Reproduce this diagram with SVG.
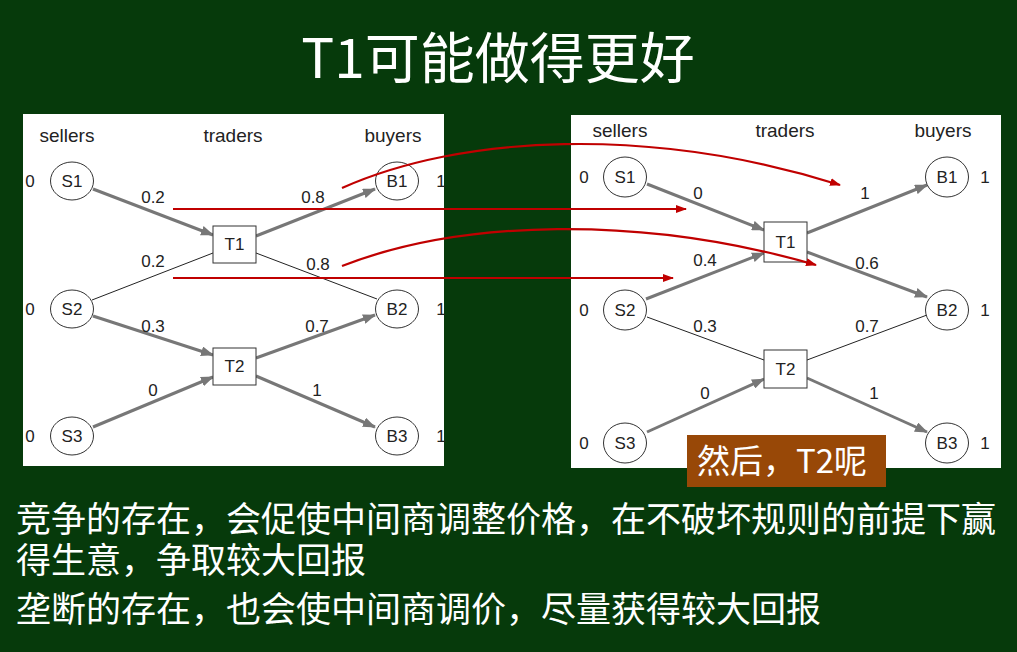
<svg xmlns="http://www.w3.org/2000/svg" width="1017" height="652" viewBox="0 0 1017 652">
  <defs>
    <marker id="grayHead" viewBox="0 0 13 10" refX="12" refY="5" markerWidth="13" markerHeight="10" markerUnits="userSpaceOnUse" orient="auto">
      <path d="M0,0 L13,5 L0,10 z" fill="#777"/>
    </marker>
    <marker id="redHead" viewBox="0 0 11 8" refX="10" refY="4" markerWidth="11" markerHeight="8" markerUnits="userSpaceOnUse" orient="auto">
      <path d="M0,0 L11,4 L0,8 z" fill="#c00000"/>
    </marker>
  </defs>
  <style>
    .panel { fill: #ffffff; }
    .hdr { font-family: "Liberation Sans", Arial, sans-serif; font-size: 19px; fill: #222; text-anchor: middle; }
    .lbl { font-family: "Liberation Sans", Arial, sans-serif; font-size: 17px; fill: #222; text-anchor: middle; }
    .nodeTxt { font-family: "Liberation Sans", Arial, sans-serif; font-size: 17px; fill: #222; text-anchor: middle; }
    .node ellipse, .node rect { fill: #fff; stroke: #333; stroke-width: 1; }
    .flow { stroke: #777; stroke-width: 3; fill: none; marker-end: url(#grayHead); }
    .thin { stroke: #222; stroke-width: 1; fill: none; }
    .red { stroke: #c00000; stroke-width: 2.2; fill: none; marker-end: url(#redHead); }
    .title { font-family: "Noto Sans CJK SC", "Noto Sans", sans-serif; font-size: 55px; fill: #fff; text-anchor: middle; }
    .body { font-family: "Noto Sans CJK SC", sans-serif; font-size: 35px; fill: #fff; }
    .note { font-family: "Noto Sans CJK SC", sans-serif; font-size: 33px; fill: #fff; }
  </style>

  <!-- background -->
  <rect width="1017" height="652" fill="#063a0b"/>

  <text class="title" x="498" y="78">T1可能做得更好</text>

  <!-- left network -->
  <g id="left-panel">
    <rect class="panel" x="23" y="114" width="421" height="352"/>
    <text class="hdr" x="67" y="142">sellers</text>
    <text class="hdr" x="233" y="142">traders</text>
    <text class="hdr" x="393" y="142">buyers</text>
    <text class="lbl" x="30" y="187">0</text>
    <text class="lbl" x="30" y="315">0</text>
    <text class="lbl" x="30" y="442">0</text>
    <text class="lbl" x="441" y="187">1</text>
    <text class="lbl" x="441" y="315">1</text>
    <text class="lbl" x="441" y="442">1</text>
  </g>

  <g id="left-connectors">
    <line class="flow" x1="93" y1="189" x2="213" y2="235"/>
    <line class="flow" x1="256" y1="236" x2="375" y2="189"/>
    <line class="thin" x1="92" y1="300" x2="213" y2="253"/>
    <line class="thin" x1="256" y1="253" x2="377" y2="299"/>
    <line class="flow" x1="93" y1="316" x2="213" y2="355"/>
    <line class="flow" x1="256" y1="358" x2="375" y2="315"/>
    <line class="flow" x1="93" y1="427" x2="213" y2="377"/>
    <line class="flow" x1="256" y1="376" x2="375" y2="427"/>
    <text class="lbl" x="153" y="203">0.2</text>
    <text class="lbl" x="313" y="203">0.8</text>
    <text class="lbl" x="153" y="267">0.2</text>
    <text class="lbl" x="318" y="270">0.8</text>
    <text class="lbl" x="153" y="332">0.3</text>
    <text class="lbl" x="317" y="332">0.7</text>
    <text class="lbl" x="153" y="396">0</text>
    <text class="lbl" x="317" y="396">1</text>
  </g>

  <g id="L-S1" class="node"><ellipse cx="72" cy="181" rx="21.5" ry="19"/><text class="nodeTxt" x="72" y="187">S1</text></g>
  <g id="L-S2" class="node"><ellipse cx="72" cy="309" rx="21.5" ry="19"/><text class="nodeTxt" x="72" y="315">S2</text></g>
  <g id="L-S3" class="node"><ellipse cx="72" cy="436" rx="21.5" ry="19"/><text class="nodeTxt" x="72" y="442">S3</text></g>
  <g id="L-T1" class="node"><rect x="213" y="226" width="43" height="37"/><text class="nodeTxt" x="234.5" y="250">T1</text></g>
  <g id="L-T2" class="node"><rect x="213" y="348" width="43" height="37"/><text class="nodeTxt" x="234.5" y="372">T2</text></g>
  <g id="L-B1" class="node"><ellipse cx="397" cy="181" rx="21.5" ry="19"/><text class="nodeTxt" x="397" y="187">B1</text></g>
  <g id="L-B2" class="node"><ellipse cx="397" cy="309" rx="21.5" ry="19"/><text class="nodeTxt" x="397" y="315">B2</text></g>
  <g id="L-B3" class="node"><ellipse cx="397" cy="436" rx="21.5" ry="19"/><text class="nodeTxt" x="397" y="442">B3</text></g>

  <!-- right network -->
  <g id="right-panel">
    <rect class="panel" x="571" y="115" width="430" height="353"/>
    <text class="hdr" x="620" y="137">sellers</text>
    <text class="hdr" x="785" y="137">traders</text>
    <text class="hdr" x="943" y="137">buyers</text>
    <text class="lbl" x="584" y="183">0</text>
    <text class="lbl" x="584" y="316">0</text>
    <text class="lbl" x="584" y="449">0</text>
    <text class="lbl" x="985" y="183">1</text>
    <text class="lbl" x="985" y="316">1</text>
    <text class="lbl" x="985" y="449">1</text>
  </g>

  <g id="right-connectors">
    <line class="flow" x1="647" y1="184" x2="764" y2="230"/>
    <line class="flow" x1="807" y1="233" x2="927" y2="185"/>
    <line class="flow" x1="646" y1="299" x2="764" y2="253"/>
    <line class="flow" x1="807" y1="252" x2="927" y2="297"/>
    <line class="thin" x1="647" y1="317" x2="764" y2="360"/>
    <line class="thin" x1="807" y1="360" x2="927" y2="315"/>
    <line class="flow" x1="647" y1="432" x2="764" y2="379"/>
    <line class="flow" x1="807" y1="378" x2="927" y2="432"/>
    <text class="lbl" x="698" y="199">0</text>
    <text class="lbl" x="865" y="199">1</text>
    <text class="lbl" x="705" y="266">0.4</text>
    <text class="lbl" x="867" y="269">0.6</text>
    <text class="lbl" x="705" y="332">0.3</text>
    <text class="lbl" x="867" y="332">0.7</text>
    <text class="lbl" x="705" y="399">0</text>
    <text class="lbl" x="874" y="399">1</text>
  </g>

  <g id="R-S1" class="node"><ellipse cx="625" cy="177" rx="21.5" ry="20"/><text class="nodeTxt" x="625" y="183">S1</text></g>
  <g id="R-S2" class="node"><ellipse cx="625" cy="310" rx="21.5" ry="20"/><text class="nodeTxt" x="625" y="316">S2</text></g>
  <g id="R-S3" class="node"><ellipse cx="625" cy="443" rx="21.5" ry="20"/><text class="nodeTxt" x="625" y="449">S3</text></g>
  <g id="R-T1" class="node"><rect x="764" y="222" width="43" height="40"/><text class="nodeTxt" x="785.5" y="248">T1</text></g>
  <g id="R-T2" class="node"><rect x="764" y="350" width="43" height="38"/><text class="nodeTxt" x="785.5" y="375">T2</text></g>
  <g id="R-B1" class="node"><ellipse cx="947" cy="177" rx="21.5" ry="20"/><text class="nodeTxt" x="947" y="183">B1</text></g>
  <g id="R-B2" class="node"><ellipse cx="947" cy="310" rx="21.5" ry="20"/><text class="nodeTxt" x="947" y="316">B2</text></g>
  <g id="R-B3" class="node"><ellipse cx="947" cy="443" rx="21.5" ry="20"/><text class="nodeTxt" x="947" y="449">B3</text></g>

  <!-- price changes carried from the left network to the right one -->
  <g id="change-arrows">
    <path class="red" d="M342,188 C460,135 650,125 840,185"/>
    <line class="red" x1="173" y1="209" x2="686" y2="209"/>
    <path class="red" d="M342,266 C460,220 640,214 816,265"/>
    <line class="red" x1="173" y1="278" x2="673" y2="278"/>
  </g>

  <g id="question-note">
    <rect x="687" y="435" width="199" height="52" fill="#984807"/>
    <text class="note" x="697" y="473">然后，T2呢</text>
  </g>

  <g id="summary">
    <text class="body" x="16" y="532">竞争的存在，会促使中间商调整价格，在不破坏规则的前提下赢<tspan x="16" y="573">得生意，争取较大回报</tspan></text>
    <text class="body" x="16" y="622">垄断的存在，也会使中间商调价，尽量获得较大回报</text>
  </g>
</svg>
